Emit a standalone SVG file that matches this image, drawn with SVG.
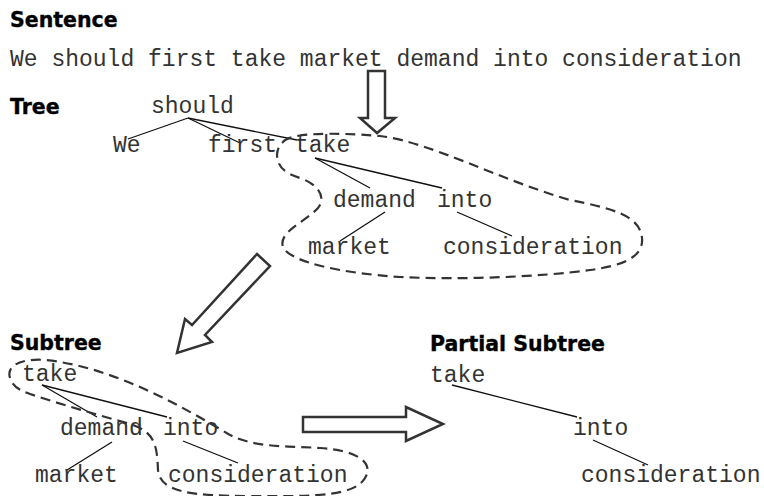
<svg xmlns="http://www.w3.org/2000/svg" width="764" height="496" viewBox="0 0 764 496">
<style>
.h{font-family:"DejaVu Sans","Verdana",sans-serif;font-weight:bold;font-size:20.5px;fill:#000;stroke:#000;stroke-width:0.35}
.w{font-family:"Liberation Mono","Courier New",monospace;font-size:23px;fill:#333}
.e{stroke:#111;stroke-width:1.3;fill:none}
.blob{stroke:#333;stroke-width:2.2;stroke-dasharray:10 6;fill:none}
.arr{stroke:#333;stroke-width:2.5;fill:#fff;stroke-linejoin:miter}
</style>
<rect width="764" height="496" fill="#fff"/>
<g id="headings">
<text class="h" x="10" y="27">Sentence</text>
<text class="h" x="10" y="114">Tree</text>
<text class="h" x="10" y="350">Subtree</text>
<text class="h" x="430" y="351">Partial Subtree</text>
</g>
<g id="sentence"><text class="w" x="10" y="66">We should first take market demand into consideration</text></g>
<g id="connectors">
<line class="e" x1="188" y1="118" x2="128" y2="139"/>
<line class="e" x1="188" y1="118" x2="240" y2="143"/>
<line class="e" x1="188" y1="118" x2="297" y2="140"/>
<line class="e" x1="315" y1="158" x2="370" y2="188"/>
<line class="e" x1="315" y1="158" x2="442" y2="188"/>
<line class="e" x1="385" y1="212" x2="340" y2="241"/>
<line class="e" x1="457" y1="212" x2="512" y2="236"/>
<line class="e" x1="42" y1="385" x2="97" y2="417"/>
<line class="e" x1="42" y1="385" x2="167" y2="417"/>
<line class="e" x1="112" y1="442" x2="67" y2="470"/>
<line class="e" x1="183" y1="441" x2="238" y2="463"/>
<line class="e" x1="452" y1="385" x2="577" y2="417"/>
<line class="e" x1="593" y1="440" x2="648" y2="465"/>
</g>
<g id="tree">
<g id="t-should"><text class="w" x="151" y="113">should</text></g>
<g id="t-we"><text class="w" x="113" y="152">We</text></g>
<g id="t-first"><text class="w" x="208" y="152">first</text></g>
<g id="t-take"><text class="w" x="295" y="152">take</text></g>
<g id="t-demand"><text class="w" x="333" y="207">demand</text></g>
<g id="t-into"><text class="w" x="437" y="207">into</text></g>
<g id="t-market"><text class="w" x="308" y="254">market</text></g>
<g id="t-consideration"><text class="w" x="443" y="254">consideration</text></g>
<path id="tree-blob" class="blob" d="M 283,142 C 290,133 330,132 380,136 C 430,142 500,180 570,200 C 610,208 640,215 642,238 C 644,258 620,266 590,270 C 540,277 460,280 400,277 C 340,273 290,262 283,247 C 278,232 305,222 318,208 C 326,198 320,185 300,178 C 285,173 278,168 277,155 C 277,150 279,146 283,142 Z"/>
</g>
<g id="subtree">
<g id="s-take"><text class="w" x="22" y="381">take</text></g>
<g id="s-demand"><text class="w" x="60" y="435">demand</text></g>
<g id="s-into"><text class="w" x="163" y="435">into</text></g>
<g id="s-market"><text class="w" x="35" y="482">market</text></g>
<g id="s-consideration"><text class="w" x="168" y="482">consideration</text></g>
<path id="subtree-blob" class="blob" d="M 10,378 C 5,362 30,356 60,362 C 120,372 180,405 230,435 C 255,448 290,446 320,448 C 355,450 375,462 365,478 C 355,495 320,497 250,496 C 190,496 160,492 158,470 C 157,445 155,432 130,424 C 95,414 60,404 30,394 C 18,390 12,385 10,378 Z"/>
</g>
<g id="partial">
<g id="p-take"><text class="w" x="430" y="382">take</text></g>
<g id="p-into"><text class="w" x="573" y="435">into</text></g>
<g id="p-consideration"><text class="w" x="581" y="482">consideration</text></g>
</g>
<g id="arrows">
<polygon id="arrow-down" class="arr" points="368,71 385,71 385,118 395,118 377,133 360,118 368,118"/>
<polygon id="arrow-diag" class="arr" points="257,254 270,266 205,335 212,342 177,353 185,319 192,325"/>
<polygon id="arrow-right" class="arr" points="303,417 406,417 406,407 443,424 406,441 406,432 303,432"/>
</g>
</svg>
